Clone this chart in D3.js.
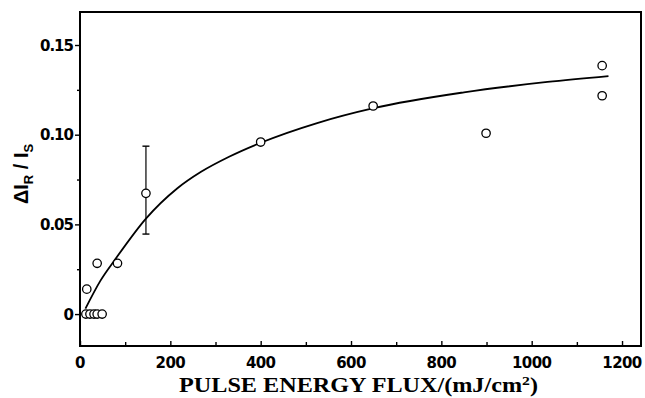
<!DOCTYPE html>
<html><head><meta charset="utf-8">
<script src="https://cdn.jsdelivr.net/npm/d3@7"></script>
<style>html,body{margin:0;padding:0;background:#fff;}svg{display:block;}</style>
</head><body>
<svg id="chart" width="645" height="398"></svg>
<script>
// measured points
const pointX = [13, 22, 31, 38, 49, 15, 38, 83, 146, 400, 649, 899, 1156, 1156];
const pointY = [0, 0, 0, 0, 0, 0.0139, 0.0283, 0.0283, 0.0673, 0.0959, 0.116, 0.1008, 0.1385, 0.1217];
// error bar at x=146
const errX = [146];
const errLow = [0.0446];
const errHigh = [0.0936];
// fitted curve as drawn
const curveX = [12, 45, 80, 146, 215, 268, 330, 400, 525, 650, 850, 1035, 1170];
const curveY = [0.003, 0.0185, 0.0312, 0.0532, 0.0700, 0.0793, 0.0877, 0.0955, 0.1065, 0.1148, 0.1236, 0.1294, 0.1327];
// ticks
const xMajor = [0, 200, 400, 600, 800, 1000, 1200];
const xMinor = [100, 300, 500, 700, 900, 1100];
const yMajor = [0, 0.05, 0.10, 0.15];
const yMajorLabels = ["0", "0.05", "0.10", "0.15"];
const yMinor = [0.025, 0.075, 0.125];

const svg = d3.select("#chart");
const L = 80, R = 641, T = 12, B = 346;
const x = d3.scaleLinear().domain([0, 1242]).range([L, R]);
const y = d3.scaleLinear().domain([-0.0178, 0.1684]).range([B, T]);

const tickFont = "'DejaVu Sans', sans-serif";

// bottom axis: inward ticks
const gx = svg.append("g").attr("transform", `translate(0,${B})`);
gx.call(d3.axisTop(x).tickValues(xMajor).tickSize(5).tickFormat(""));
gx.select(".domain").remove();
const gxm = svg.append("g").attr("transform", `translate(0,${B})`);
gxm.call(d3.axisTop(x).tickValues(xMinor).tickSize(4).tickFormat(""));
gxm.select(".domain").remove();

// x labels
svg.append("g").selectAll("text").data(xMajor).join("text")
  .attr("x", d => x(d)).attr("y", 368)
  .attr("text-anchor", "middle")
  .attr("font-family", tickFont).attr("font-weight", "bold").attr("font-size", 15)
  .attr("letter-spacing", "-0.6")
  .text(d => d);

// left axis: outward ticks
const gy = svg.append("g").attr("transform", `translate(${L},0)`);
gy.call(d3.axisLeft(y).tickValues(yMajor).tickSize(5).tickFormat(""));
gy.select(".domain").remove();
const gym = svg.append("g").attr("transform", `translate(${L},0)`);
gym.call(d3.axisLeft(y).tickValues(yMinor).tickSize(3).tickFormat(""));
gym.select(".domain").remove();
svg.selectAll("g .tick line").attr("stroke", "#000").attr("stroke-width", 1.4);

svg.append("g").selectAll("text").data(yMajor).join("text")
  .attr("x", 73).attr("y", d => y(d) + 5.5)
  .attr("text-anchor", "end")
  .attr("font-family", tickFont).attr("font-weight", "bold").attr("font-size", 15)
  .attr("letter-spacing", "-1")
  .text((d, i) => yMajorLabels[i]);

// frame
svg.append("rect").attr("x", L).attr("y", T).attr("width", R - L).attr("height", B - T)
  .attr("fill", "none").attr("stroke", "#000").attr("stroke-width", 2);

// curve
const line = d3.line().x(d => x(d[0])).y(d => y(d[1])).curve(d3.curveMonotoneX);
svg.append("path").datum(curveX.map((v, i) => [v, curveY[i]]))
  .attr("d", line).attr("fill", "none").attr("stroke", "#000").attr("stroke-width", 1.8);

// error bar
errX.forEach((ex, i) => {
  svg.append("line").attr("x1", x(ex)).attr("x2", x(ex)).attr("y1", y(errLow[i])).attr("y2", y(errHigh[i]))
    .attr("stroke", "#000").attr("stroke-width", 1.2);
  [errLow[i], errHigh[i]].forEach(v => {
    svg.append("line").attr("x1", x(ex) - 3.5).attr("x2", x(ex) + 3.5).attr("y1", y(v)).attr("y2", y(v))
      .attr("stroke", "#000").attr("stroke-width", 1.4);
  });
});

// points
svg.append("g").selectAll("circle").data(pointX.map((v, i) => [v, pointY[i]])).join("circle")
  .attr("cx", d => x(d[0])).attr("cy", d => y(d[1])).attr("r", 4.2)
  .attr("fill", "#fff").attr("stroke", "#000").attr("stroke-width", 1.3);

// x title (stretched horizontally to match the wide original face)
const xt = svg.append("text").attr("text-anchor", "middle")
  .attr("font-family", "'Liberation Serif', serif").attr("font-weight", "bold").attr("font-size", 20)
  .html('PULSE ENERGY FLUX/(mJ/cm<tspan dy="-7" font-size="13">2</tspan><tspan dy="7">)</tspan>');
const xw = xt.node().getBBox().width;
const sx = 359 / xw;
xt.attr("transform", `translate(358.5,392) scale(${sx},1)`);

// y title
const yt = svg.append("text").attr("transform", "translate(28,174) rotate(-90)")
  .attr("text-anchor", "middle")
  .attr("font-family", "'Liberation Sans', sans-serif").attr("font-weight", "bold").attr("font-size", 20);
yt.append("tspan").text("ΔI");
yt.append("tspan").attr("dy", 5).attr("font-size", 13).text("R");
yt.append("tspan").attr("dy", -5).text(" / I");
yt.append("tspan").attr("dy", 5).attr("font-size", 13).text("S");
</script>
</body></html>
